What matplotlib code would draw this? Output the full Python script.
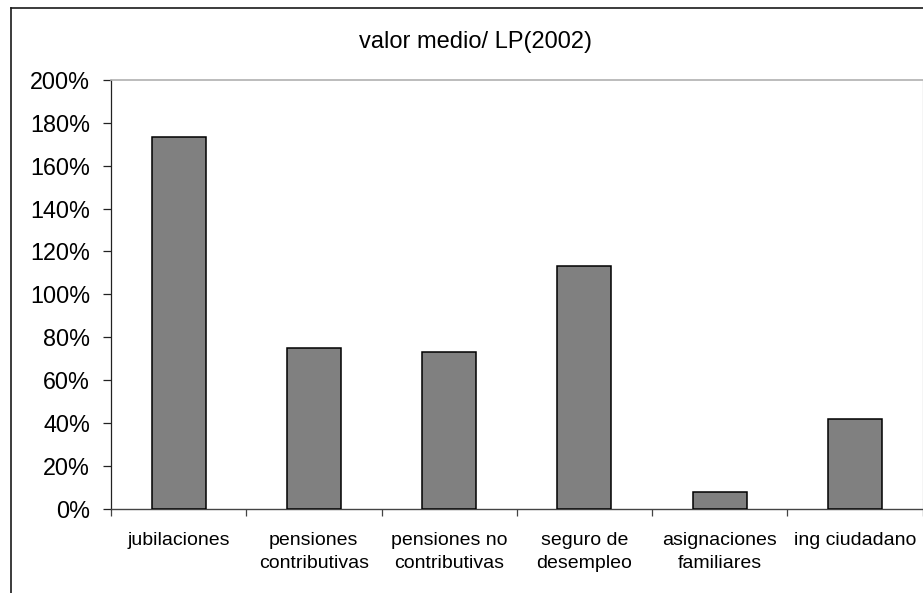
import matplotlib.pyplot as plt
from matplotlib.lines import Line2D
from matplotlib.ticker import FixedLocator, PercentFormatter

plt.rcParams["font.family"] = ["Liberation Sans", "DejaVu Sans"]

categories = [
    "jubilaciones",
    "pensiones\ncontributivas",
    "pensiones no\ncontributivas",
    "seguro de\ndesempleo",
    "asignaciones\nfamiliares",
    "ing ciudadano",
]
values = [173.5, 74.9, 72.9, 113.0, 7.7, 41.8]
y_ticks = [0, 20, 40, 60, 80, 100, 120, 140, 160, 180, 200]
title = "valor medio/ LP(2002)"

W, H = 923, 593
fig = plt.figure(figsize=(W / 100, H / 100), dpi=100)
fig.patch.set_facecolor("white")

# outer chart frame (cropped on right/bottom)
fig.add_artist(Line2D([11 / W, 11 / W], [0, 1 - 8 / H], color="#1a1a1a", lw=1.2))
fig.add_artist(Line2D([11 / W, 1], [1 - 8 / H, 1 - 8 / H], color="#1a1a1a", lw=1.2))

left, right = 111 / W, 922.5 / W
bottom, top = 1 - 508.7 / H, 1 - 80 / H
ax = fig.add_axes([left, bottom, right - left, top - bottom])

x = range(len(categories))
ax.bar(x, values, width=0.4, color="#808080", edgecolor="black", linewidth=1.1, zorder=3)

ax.set_xlim(-0.5, len(categories) - 0.5)
ax.set_ylim(0, 200)
ax.set_yticks(y_ticks)
ax.yaxis.set_major_formatter(PercentFormatter(decimals=0))
ax.tick_params(axis="y", direction="out", length=6, width=0.9, labelsize=16.8, pad=9, color="#222222")

ax.set_xticks(list(x))
ax.set_xticklabels(categories)
ax.xaxis.set_minor_locator(FixedLocator([i + 0.5 for i in range(-1, len(categories))]))
ax.tick_params(axis="x", which="major", length=0, labelsize=14, pad=17)
ax.tick_params(axis="x", which="minor", direction="out", length=5, width=0.9, color="#444444")
for lbl in ax.get_xticklabels():
    lbl.set_linespacing(1.4)

ax.spines["left"].set_color("#222222")
ax.spines["left"].set_linewidth(0.9)
ax.spines["bottom"].set_color("#444444")
ax.spines["bottom"].set_linewidth(1.0)
ax.spines["top"].set_color("#b0b0b0")
ax.spines["top"].set_linewidth(1.2)
ax.spines["right"].set_color("#d0d0d0")
ax.spines["right"].set_linewidth(1.0)

fig.text(475.5 / W, 1 - 48 / H, title, ha="center", va="baseline", fontsize=17)

fig.savefig("out.png", dpi=100)
